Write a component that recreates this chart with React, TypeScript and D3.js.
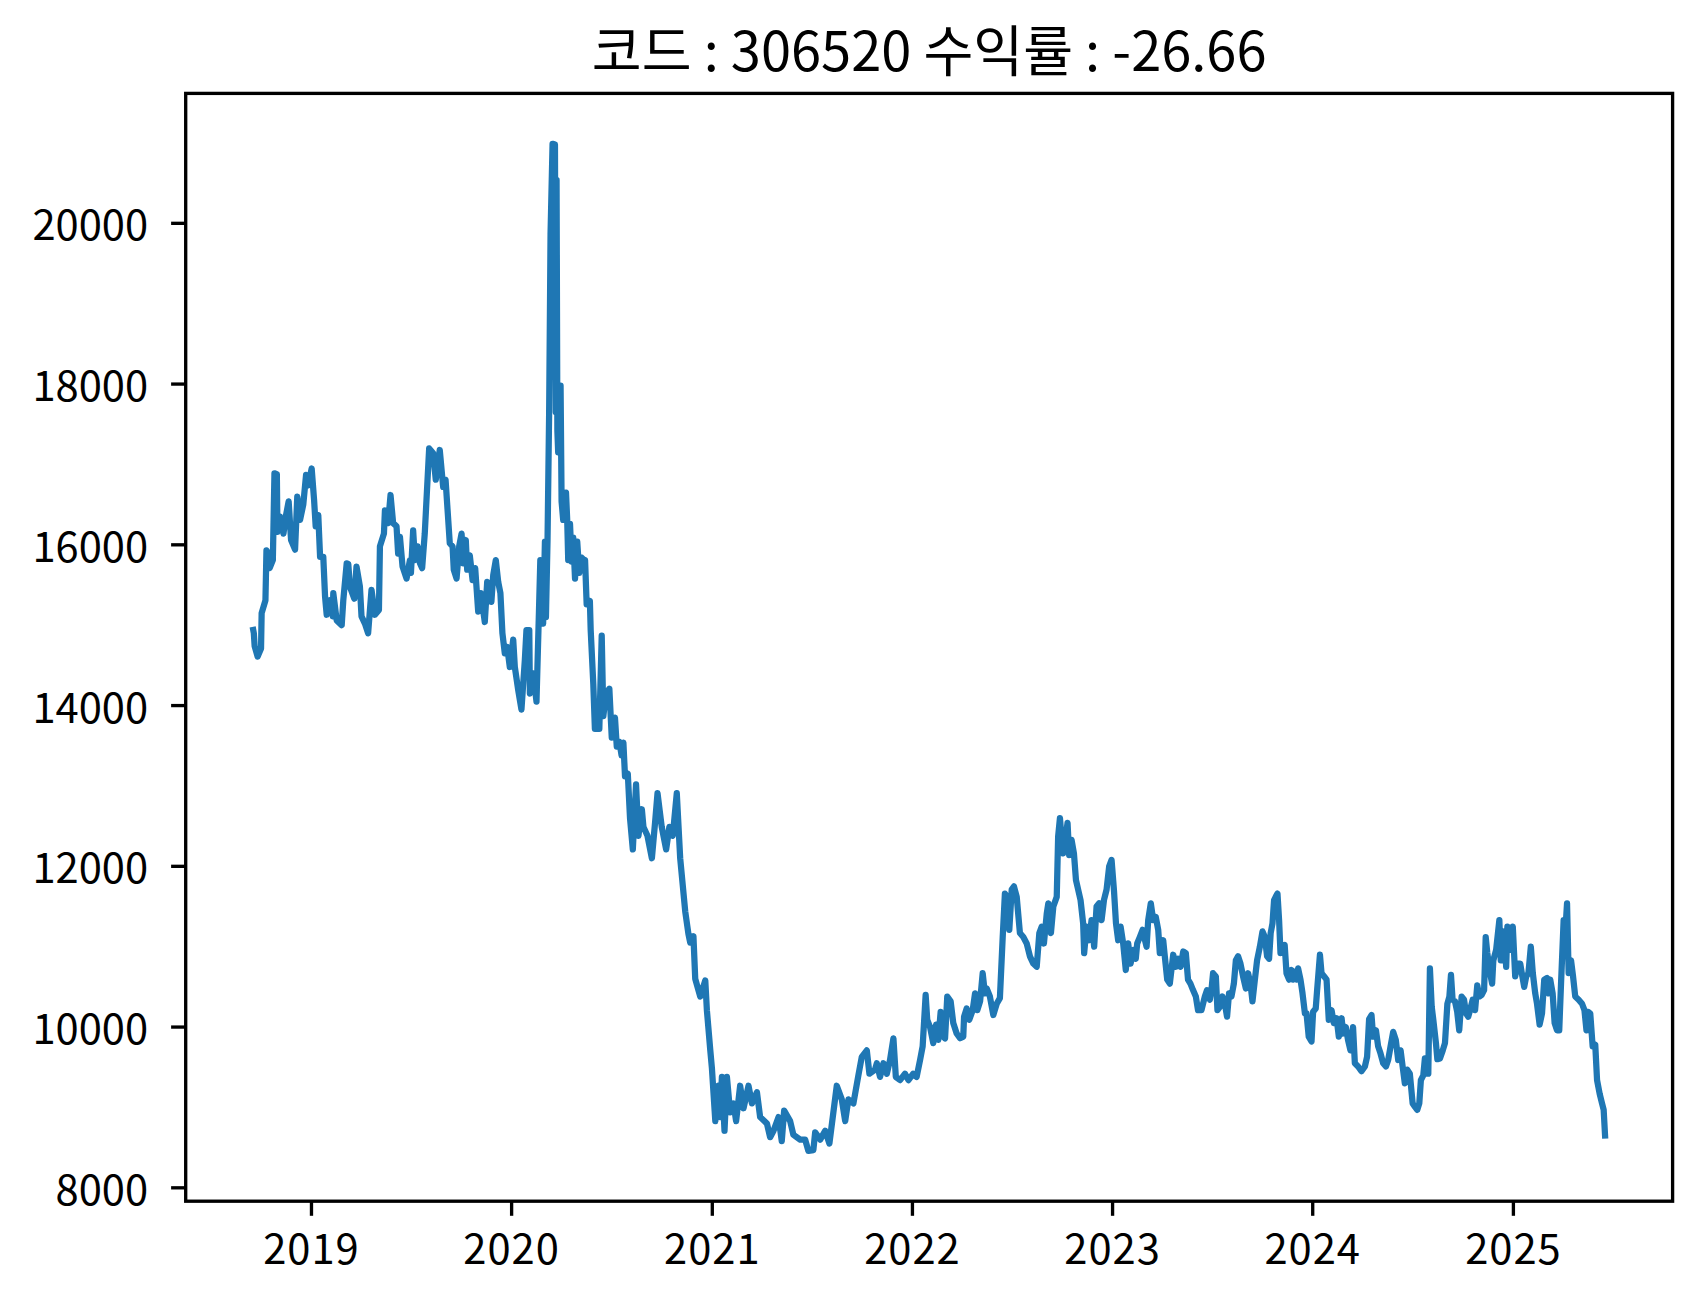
import React from "react";
import * as d3 from "d3";

const TITLE = "코드 : 306520 수익률 : -26.66";

// decimal-year dates of the sampled closing prices
const years = [
2018.709,2018.712,2018.716,2018.731,2018.748,2018.751,2018.770,2018.775,2018.781,2018.791,2018.807,2018.815,2018.827,2018.830,2018.843,2018.860,2018.873,2018.886,2018.898,2018.918,2018.929,2018.943,2018.959,2018.973,2018.984,
2019.001,2019.013,2019.021,2019.034,2019.043,2019.059,2019.068,2019.076,2019.093,2019.106,2019.109,2019.126,2019.151,2019.159,2019.176,2019.184,2019.192,2019.214,2019.225,2019.242,2019.250,2019.267,2019.283,2019.300,2019.317,2019.337,2019.342,2019.362,2019.367,2019.383,2019.395,2019.408,2019.425,2019.433,2019.442,2019.455,2019.475,2019.492,2019.497,2019.508,2019.517,2019.530,2019.542,2019.553,2019.566,2019.588,2019.608,2019.621,2019.641,2019.658,2019.670,2019.691,2019.705,2019.711,2019.725,2019.738,2019.750,2019.758,2019.771,2019.778,2019.791,2019.805,2019.818,2019.833,2019.846,2019.866,2019.878,2019.899,2019.908,2019.921,2019.933,2019.944,2019.954,2019.966,2019.978,2019.991,
2020.008,2020.016,2020.033,2020.049,2020.066,2020.074,2020.088,2020.091,2020.108,2020.124,2020.136,2020.143,2020.149,2020.157,2020.166,2020.171,2020.179,2020.187,2020.194,2020.204,2020.216,2020.220,2020.224,2020.228,2020.232,2020.237,2020.244,2020.249,2020.257,2020.271,2020.277,2020.282,2020.291,2020.299,2020.307,2020.316,2020.327,2020.337,2020.349,2020.357,2020.366,2020.374,2020.390,2020.394,2020.407,2020.415,2020.437,2020.449,2020.457,2020.470,2020.487,2020.499,2020.515,2020.524,2020.537,2020.548,2020.557,2020.565,2020.579,2020.590,2020.604,2020.620,2020.632,2020.649,2020.657,2020.677,2020.699,2020.715,2020.727,2020.748,2020.770,2020.786,2020.803,2020.823,2020.840,2020.865,2020.881,2020.890,2020.906,2020.915,2020.940,2020.965,2020.973,2020.990,2020.998,
2021.015,2021.031,2021.039,2021.048,2021.061,2021.073,2021.089,2021.106,2021.119,2021.139,2021.156,2021.181,2021.198,2021.223,2021.239,2021.273,2021.289,2021.306,2021.331,2021.347,2021.359,2021.389,2021.405,2021.439,2021.464,2021.480,2021.505,2021.514,2021.539,2021.564,2021.585,2021.605,2021.622,2021.647,2021.664,2021.680,2021.705,2021.730,2021.747,2021.772,2021.785,2021.813,2021.822,2021.838,2021.855,2021.872,2021.888,2021.905,2021.917,2021.938,2021.963,2021.980,
2022.004,2022.021,2022.038,2022.051,2022.066,2022.074,2022.088,2022.104,2022.118,2022.129,2022.141,2022.154,2022.163,2022.174,2022.191,2022.204,2022.221,2022.238,2022.254,2022.258,2022.271,2022.284,2022.301,2022.313,2022.324,2022.338,2022.351,2022.362,2022.371,2022.387,2022.404,2022.421,2022.437,2022.451,2022.462,2022.474,2022.484,2022.496,2022.507,2022.521,2022.537,2022.554,2022.571,2022.587,2022.604,2022.621,2022.634,2022.646,2022.657,2022.671,2022.679,2022.692,2022.704,2022.721,2022.728,2022.737,2022.745,2022.753,2022.767,2022.775,2022.783,2022.795,2022.807,2022.817,2022.828,2022.840,2022.853,2022.858,2022.870,2022.883,2022.895,2022.908,2022.920,2022.933,2022.945,2022.957,2022.970,2022.983,2022.995,
2023.007,2023.017,2023.028,2023.040,2023.053,2023.066,2023.078,2023.090,2023.103,2023.116,2023.123,2023.136,2023.150,2023.158,2023.170,2023.178,2023.191,2023.203,2023.216,2023.228,2023.236,2023.253,2023.261,2023.273,2023.286,2023.303,2023.316,2023.328,2023.340,2023.353,2023.366,2023.377,2023.389,2023.402,2023.416,2023.427,2023.444,2023.461,2023.472,2023.486,2023.494,2023.502,2023.516,2023.524,2023.536,2023.549,2023.561,2023.572,2023.582,2023.594,2023.606,2023.616,2023.627,2023.639,2023.652,2023.666,2023.677,2023.689,2023.699,2023.711,2023.722,2023.736,2023.749,2023.761,2023.772,2023.782,2023.790,2023.799,2023.807,2023.815,2023.824,2023.832,2023.839,2023.852,2023.860,2023.869,2023.882,2023.894,2023.902,2023.910,2023.919,2023.927,2023.939,2023.949,2023.961,2023.969,2023.980,2023.994,
2024.002,2024.015,2024.022,2024.036,2024.044,2024.057,2024.069,2024.080,2024.094,2024.105,2024.119,2024.130,2024.144,2024.152,2024.165,2024.176,2024.188,2024.201,2024.210,2024.226,2024.243,2024.260,2024.271,2024.281,2024.293,2024.301,2024.315,2024.326,2024.338,2024.351,2024.365,2024.376,2024.388,2024.401,2024.414,2024.426,2024.438,2024.448,2024.459,2024.471,2024.484,2024.498,2024.509,2024.521,2024.531,2024.539,2024.551,2024.559,2024.568,2024.576,2024.584,2024.593,2024.601,2024.614,2024.621,2024.634,2024.648,2024.659,2024.671,2024.681,2024.689,2024.697,2024.709,2024.720,2024.730,2024.742,2024.754,2024.764,2024.775,2024.784,2024.797,2024.809,2024.820,2024.830,2024.842,2024.854,2024.862,2024.870,2024.884,2024.894,2024.900,2024.914,2024.930,2024.937,2024.947,2024.954,2024.964,2024.970,2024.984,2024.997,
2025.009,2025.020,2025.034,2025.042,2025.054,2025.064,2025.075,2025.087,2025.097,2025.109,2025.118,2025.131,2025.143,2025.154,2025.168,2025.176,2025.184,2025.196,2025.206,2025.218,2025.229,2025.238,2025.251,2025.259,2025.268,2025.276,2025.288,2025.298,2025.309,2025.326,2025.343,2025.355,2025.365,2025.373,2025.384,2025.396,2025.409,2025.418,2025.431,2025.443,2025.451,2025.458
];

const prices = [
14940,14900,14740,14610,14710,15150,15310,15930,15910,15710,15810,16890,16880,16160,16350,16140,16370,16540,16060,15940,16600,16310,16500,16870,16740,
16950,16560,16230,16370,15850,15850,15350,15130,15310,15110,15400,15060,15000,15310,15770,15760,15480,15330,15730,15480,15110,15020,14900,15440,15130,15190,15980,16140,16430,16270,16620,16270,16230,15890,16100,15730,15580,15810,15650,16180,15810,15980,15770,15710,16140,17200,17140,16810,17180,16720,16810,16020,15980,15690,15580,15980,16140,15770,16060,15690,15870,15560,15710,15170,15400,15040,15540,15290,15620,15810,15540,15400,14900,14650,14730,14480,
14820,14480,14190,13950,14570,14940,14940,14150,14400,14050,15150,15810,15150,15020,16040,15100,16060,17650,19870,20990,20980,17650,20540,17420,17150,17980,17980,16540,16310,16650,16310,15810,16260,15790,16090,15580,16040,15650,15840,15820,15810,15260,15300,14940,14270,13710,13710,14870,13870,14140,14210,13600,13850,13490,13550,13380,13540,13120,13150,12600,12210,13020,12380,12710,12490,12380,12100,12550,12910,12490,12210,12490,12380,12910,12100,11440,11160,11050,11130,10600,10380,10580,10210,9710,9490,
8830,9270,8880,9380,8710,9380,8940,9050,8830,9270,8990,9270,9050,9190,8880,8800,8630,8710,8880,8580,8960,8830,8660,8600,8600,8460,8470,8690,8600,8710,8550,8940,9270,9100,8830,9100,9050,9400,9630,9710,9420,9470,9550,9380,9550,9420,9590,9860,9380,9340,9420,9340,
9420,9380,9590,9760,10400,10090,10000,9800,10030,9840,10190,9880,9860,10380,10320,10050,9920,9860,9880,10130,10230,10090,10210,10420,10210,10320,10670,10420,10480,10380,10150,10290,10360,11120,11660,11620,11210,11710,11750,11620,11170,11120,11040,10880,10790,10750,11170,11250,11040,11410,11540,11170,11500,11620,12370,12600,12350,12160,12390,12540,12140,12330,12160,11830,11710,11580,11290,10920,11250,11080,11330,11000,11500,11540,11330,11580,11710,12000,12080,
11700,11290,11080,11250,11040,10710,11040,10790,10960,10850,11040,11120,11210,11120,11000,11330,11540,11330,11370,11210,10920,11080,10880,10590,10540,10900,10750,10850,10750,10940,10920,10590,10540,10460,10380,10210,10210,10380,10460,10340,10460,10670,10630,10210,10250,10380,10290,10130,10420,10380,10540,10830,10880,10790,10630,10480,10670,10540,10320,10590,10830,11000,11190,11120,10880,10850,11170,11290,11580,11620,11660,11330,10920,11000,11020,10670,10590,10710,10590,10690,10590,10730,10590,10420,10170,10170,9880,9820,
10190,10230,10460,10900,10670,10630,10590,10090,10210,10050,10110,9880,10110,9920,10000,9840,9710,10000,9550,9510,9450,9510,9630,10100,10150,9880,9960,9760,9670,9550,9510,9590,9760,9940,9840,9590,9710,9510,9300,9470,9420,9050,9010,8970,9050,9340,9400,9610,9420,9420,10730,10250,10090,9800,9600,9610,9710,9800,10290,10380,10650,10340,10320,10190,9960,10380,10340,10170,10130,10210,10340,10210,10520,10380,10400,10460,11120,10920,10670,10540,10830,10960,11330,10830,10830,11190,10750,11250,10960,11250,
10630,10790,10790,10670,10500,10630,10670,11000,10670,10420,10290,10030,10170,10590,10610,10420,10590,10420,10050,9960,9960,10540,11330,11170,11540,10670,10830,10630,10380,10340,10290,10210,9960,10190,10170,9760,9780,9340,9170,9050,8970,8650
];

const xTickYears = [2019, 2020, 2021, 2022, 2023, 2024, 2025];
const yTickValues = [8000, 10000, 12000, 14000, 16000, 18000, 20000];

function decimalYearToDate(t: number): Date {
  const y = Math.floor(t);
  const a = Date.UTC(y, 0, 1);
  const b = Date.UTC(y + 1, 0, 1);
  return new Date(a + (t - y) * (b - a));
}

const W = 1703;
const H = 1300;
const AX_L = 185.7;
const AX_R = 1672.6;
const AX_T = 93.4;
const AX_B = 1201.2;
const FONT = "'Noto Sans CJK KR', 'Noto Sans', sans-serif";
const TICK_LEN = 14.6;
const TICK_W = 3.33;
const LABEL_SIZE = 41.7;

export default function App() {
  const points = years.map((t, i) => ({ d: decimalYearToDate(t), v: prices[i] }));
  const tExt = d3.extent(years) as [number, number];
  const tPad = (tExt[1] - tExt[0]) * 0.05;
  const vExt = d3.extent(prices) as [number, number];
  const vPad = (vExt[1] - vExt[0]) * 0.05;

  const x = d3
    .scaleUtc()
    .domain([decimalYearToDate(tExt[0] - tPad), decimalYearToDate(tExt[1] + tPad)])
    .range([AX_L, AX_R]);
  const y = d3
    .scaleLinear()
    .domain([vExt[0] - vPad, vExt[1] + vPad])
    .range([AX_B, AX_T]);

  const line = d3
    .line<{ d: Date; v: number }>()
    .x((p) => x(p.d))
    .y((p) => y(p.v));

  return (
    <div style={{ position: "absolute", left: 0, top: 0, width: W, height: H, background: "#fff" }}>
      <svg width={W} height={H} viewBox={`0 0 ${W} ${H}`} style={{ display: "block" }}>
        <rect x={0} y={0} width={W} height={H} fill="#ffffff" />
        <text
          x={(AX_L + AX_R) / 2}
          y={71}
          textAnchor="middle"
          fontFamily={FONT}
          fontSize={54.2}
          fill="#000"
        >
          {TITLE}
        </text>
        <defs>
          <clipPath id="plotclip">
            <rect x={AX_L} y={AX_T} width={AX_R - AX_L} height={AX_B - AX_T} />
          </clipPath>
        </defs>
        <path
          d={line(points) || ""}
          fill="none"
          stroke="#1f77b4"
          strokeWidth={6.25}
          strokeLinejoin="round"
          strokeLinecap="square"
          clipPath="url(#plotclip)"
        />
        {xTickYears.map((yr) => {
          const px = x(new Date(Date.UTC(yr, 0, 1)));
          return (
            <g key={"xt" + yr}>
              <line x1={px} x2={px} y1={AX_B} y2={AX_B + TICK_LEN} stroke="#000" strokeWidth={TICK_W} />
              <text
                x={px}
                y={1264}
                textAnchor="middle"
                fontFamily={FONT}
                fontSize={LABEL_SIZE}
                letterSpacing={1}
                fill="#000"
              >
                {String(yr)}
              </text>
            </g>
          );
        })}
        {yTickValues.map((v) => {
          const py = y(v);
          return (
            <g key={"yt" + v}>
              <line x1={AX_L - TICK_LEN} x2={AX_L} y1={py} y2={py} stroke="#000" strokeWidth={TICK_W} />
              <text
                x={AX_L - TICK_LEN - 23}
                y={py + 17}
                textAnchor="end"
                fontFamily={FONT}
                fontSize={LABEL_SIZE}
                fill="#000"
              >
                {String(v)}
              </text>
            </g>
          );
        })}
        <rect
          x={AX_L}
          y={AX_T}
          width={AX_R - AX_L}
          height={AX_B - AX_T}
          fill="none"
          stroke="#000"
          strokeWidth={TICK_W}
          strokeLinejoin="miter"
        />
      </svg>
    </div>
  );
}
